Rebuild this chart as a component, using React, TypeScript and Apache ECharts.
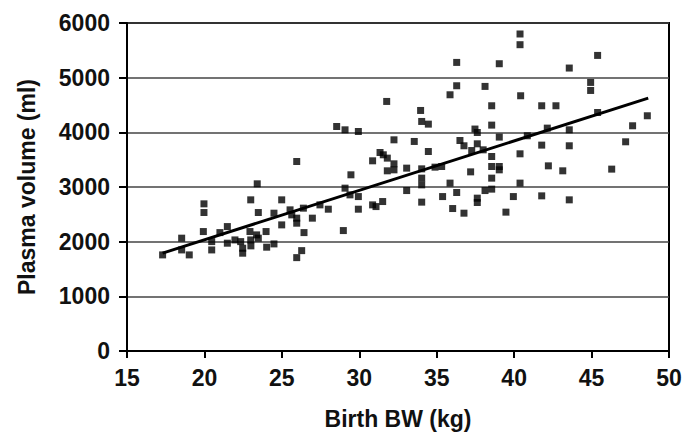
import React, { useEffect, useRef } from "react";
import * as echarts from "echarts";

const birthBW: number[] = [
  23.41, 19.97, 19.97, 22.99, 23.48, 17.3, 18.53, 18.53, 19.02, 19.93, 20.47, 20.47, 21.0, 21.48, 21.48, 21.97, 22.34, 22.47, 22.47, 22.94, 22.99, 23.37, 23.48, 23.98, 24.02, 23.0,
  31.77, 33.96, 34.03, 34.46, 28.54, 29.08, 29.94, 32.24, 33.55, 34.46, 25.96, 30.86, 31.34, 31.55, 31.81, 32.24, 31.81, 32.24, 33.06, 34.03, 34.03, 34.03, 34.89, 35.32, 29.46, 29.08, 29.4, 29.94, 29.94, 30.86, 31.08, 31.51, 33.06, 34.03, 35.38, 28.97, 24.99, 24.49, 25.53, 25.64, 26.39, 27.46, 28.0, 24.99, 25.96, 25.96, 26.97, 26.43, 24.49, 26.28, 25.96,
  40.38, 40.38, 36.29, 39.04, 43.56, 45.39, 36.29, 35.86, 38.12, 44.94, 44.94, 40.42, 38.55, 41.78, 42.7, 38.55, 37.47, 37.62, 36.5, 36.76, 37.62, 37.26, 38.0, 39.04, 40.85, 42.14, 43.56, 45.39, 47.65, 48.6, 47.2, 41.78, 43.56, 40.38, 38.55, 38.55, 39.04, 39.04, 37.19, 38.55, 42.21, 43.14, 46.3, 35.86, 36.29, 38.12, 38.55, 40.38, 37.62, 37.62, 39.95, 41.78, 43.56, 36.03, 36.76, 39.47,
];

const plasmaVolume: number[] = [
  3058, 2692, 2533, 2765, 2533, 1758, 2064, 1849, 1758, 2185, 2001, 1849, 2166, 2276, 1972, 2032, 2001, 1880, 1789, 2185, 2032, 2124, 2064, 2185, 1899, 1923,
  4565, 4400, 4199, 4150, 4107, 4046, 4015, 3863, 3833, 3649, 3466, 3479, 3631, 3589, 3528, 3424, 3296, 3314, 3345, 3332, 3162, 3039, 3363, 3375, 3223, 2979, 2856, 2825, 2594, 2673, 2642, 2734, 2935, 2723, 2825, 2203, 2765, 2521, 2582, 2490, 2613, 2673, 2594, 2307, 2430, 2338, 2430, 2166, 1959, 1836, 1708,
  5799, 5603, 5279, 5255, 5176, 5407, 4852, 4687, 4840, 4913, 4766, 4669, 4486, 4486, 4486, 4132, 4060, 3997, 3851, 3754, 3790, 3667, 3680, 3913, 3937, 4077, 4046, 4363, 4120, 4303, 3827, 3766, 3754, 3607, 3558, 3375, 3375, 3314, 3277, 3162, 3387, 3296, 3327, 3071, 2899, 2935, 2961, 3071, 2796, 2716, 2825, 2838, 2765, 2606, 2521, 2540,
];

const fitLineX: number[] = [17.3, 48.66];
const fitLineY: number[] = [1790, 4627];

const xTicks = { min: 15, max: 50, interval: 5 };
const yTicks = { min: 0, max: 6000, interval: 1000 };

const FONT = "'Liberation Sans', Arial, sans-serif";

export default function App() {
  const ref = useRef<HTMLDivElement>(null);
  useEffect(() => {
    if (!ref.current) return;
    const chart = echarts.init(ref.current, undefined, { renderer: "svg" });
    const points = birthBW.map((x, i) => [x, plasmaVolume[i]]);
    const line = fitLineX.map((x, i) => [x, fitLineY[i]]);
    chart.setOption({
      animation: false,
      backgroundColor: "#ffffff",
      grid: {
        left: 127,
        right: 20,
        top: 23,
        bottom: 89,
        show: true,
        borderColor: "#000",
        borderWidth: 2,
        backgroundColor: "transparent",
      },
      xAxis: {
        type: "value",
        min: xTicks.min,
        max: xTicks.max,
        interval: xTicks.interval,
        name: "Birth BW (kg)",
        nameLocation: "middle",
        nameGap: 56,
        nameTextStyle: { fontFamily: FONT, fontWeight: "bold", fontSize: 23, color: "#111" },
        axisLine: { show: true, lineStyle: { color: "#000", width: 2 } },
        axisTick: { show: true, length: 7, lineStyle: { color: "#000", width: 2 } },
        axisLabel: {
          margin: 15,
          fontFamily: FONT,
          fontWeight: "bold",
          fontSize: 23,
          color: "#111",
          formatter: (v: number) => String(v),
        },
        splitLine: { show: false },
      },
      yAxis: {
        type: "value",
        min: yTicks.min,
        max: yTicks.max,
        interval: yTicks.interval,
        name: "Plasma volume (ml)",
        nameLocation: "middle",
        nameGap: 89,
        nameRotate: 90,
        nameTextStyle: { fontFamily: FONT, fontWeight: "bold", fontSize: 23, color: "#111" },
        axisLine: { show: true, lineStyle: { color: "#000", width: 2 } },
        axisTick: { show: true, length: 8, lineStyle: { color: "#000", width: 2 } },
        axisLabel: {
          margin: 17,
          fontFamily: FONT,
          fontWeight: "bold",
          fontSize: 23,
          color: "#111",
          formatter: (v: number) => String(v),
        },
        splitLine: { show: true, lineStyle: { color: "#444", width: 1.6 } },
      },
      series: [
        {
          type: "scatter",
          data: points,
          symbol: "rect",
          symbolSize: 7,
          itemStyle: { color: "#000" },
          z: 3,
        },
        {
          type: "line",
          data: line,
          symbol: "none",
          lineStyle: { color: "#000", width: 3 },
          z: 4,
        },
      ],
    });
    return () => chart.dispose();
  }, []);
  return (
    <div
      ref={ref}
      style={{ position: "fixed", left: 0, top: 0, width: 689, height: 440, background: "#fff" }}
    />
  );
}
